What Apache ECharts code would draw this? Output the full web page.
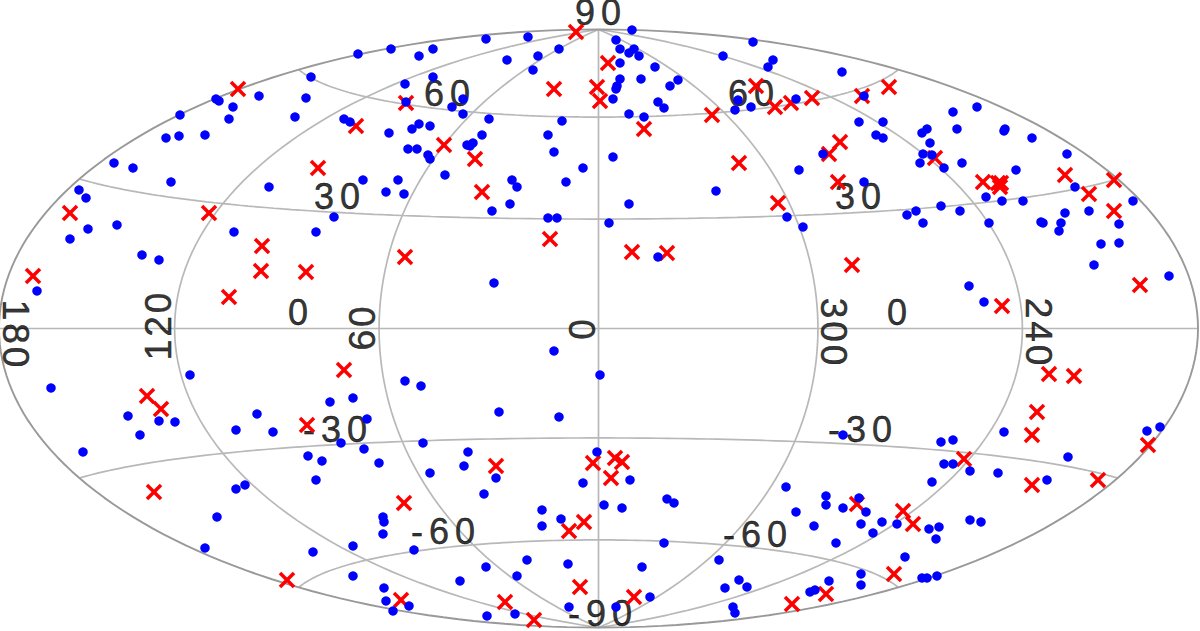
<!DOCTYPE html>
<html><head><meta charset="utf-8">
<style>html,body{margin:0;padding:0;background:#fff}#chart{width:1200px;height:631px}#chart text{letter-spacing:6px}</style>
<script src="https://cdn.jsdelivr.net/npm/echarts@6/dist/echarts.min.js"></script>
</head><body><div id="chart"></div>
<script>
// Sources, in projected map coordinates [x, y]
const blueSources = [
[216,99],[219,101],[180,115],[233,107],[259,96],[229,119],[295,117],[166,138],[179,136],[205,135],[114,163],[133,168],[171,182],[269,187],[79,190],[86,198],
[358,54],[391,49],[419,56],[433,49],[486,39],[528,37],[559,49],[538,56],[507,60],[533,70],[311,77],[433,77],[405,84],[306,98],[406,102],[463,99],[452,107],[463,114],[489,119],[562,121],[344,119],[350,122],[419,124],[412,129],[430,126],[389,133],[548,135],[482,135],[473,143],[467,145],[470,146],[408,149],[417,149],[554,152],[428,155],[430,159],[583,168],[445,175],[363,180],[398,180],[512,180],[517,187],[566,182],[386,192],[404,194],[510,204],[492,211],[334,217],[548,218],[557,218],
[632,30],[616,40],[620,49],[629,53],[634,49],[639,56],[620,63],[655,67],[620,79],[617,86],[616,89],[641,79],[678,80],[670,86],[613,99],[658,102],[664,108],[629,114],[644,117],[613,157],[629,204],[609,223],[753,42],[723,56],[773,60],[768,67],[842,72],[738,100],[735,110],[751,107],[796,99],[864,96],[859,122],[883,122],[876,135],[883,138],[823,154],[799,170],[716,191],[864,182],[787,217],
[977,107],[953,112],[927,129],[922,133],[957,129],[1005,129],[1004,131],[1032,138],[930,143],[923,154],[932,155],[1067,154],[920,163],[962,163],[944,168],[1016,170],[1075,187],[986,197],[1002,201],[1023,201],[1133,201],[941,206],[916,211],[907,215],[960,211],[1065,213],[1089,211],
[923,223],[989,223],[1043,223],[1041,222],[1061,223],[1059,231],[1119,224],[1119,243],[1101,244],[1094,265],[1169,276],[969,286],[984,302],[1147,431],[1160,427],
[658,257],[803,227],[600,375],
[316,232],[494,283],[554,351],[405,381],[421,386],[353,398],[330,402],[499,412],[559,417],[367,419],
[70,239],[88,229],[117,225],[142,255],[159,260],[234,232],[37,291],[190,375],[51,388],[128,416],[159,421],[175,422],[257,414],[236,430],[273,432],
[83,452],[140,435],[236,489],[245,485],[217,517],[205,548],
[341,443],[364,449],[308,456],[322,461],[379,463],[316,480],[423,443],[468,452],[464,466],[430,473],[496,478],[484,494],[597,452],[583,483],[383,517],[384,522],[383,534],[542,510],[542,526],[561,519],[414,550],[353,546],[313,552],[527,560],[486,567],[568,564],[517,576],[353,576],[460,581],[384,588],[386,601],[409,606],[393,611],[487,616],[515,614],[569,607],
[630,480],[604,505],[622,508],[667,499],[674,503],[664,543],[786,487],[826,496],[826,505],[796,512],[843,508],[859,498],[866,512],[814,526],[861,524],[882,522],[873,533],[836,543],[897,524],[719,560],[642,567],[739,580],[725,588],[747,587],[650,597],[616,607],[733,607],[735,613],[861,574],[861,585],[829,581],[815,590],[810,592],[843,435],
[941,442],[953,440],[944,464],[953,464],[970,471],[998,473],[932,482],[1047,480],[1068,457],[1004,432],[970,520],[981,522],[929,529],[939,527],[936,539],[905,557],[922,578],[927,578],[937,576]
];
const redSources = [
[238,89],[70,213],[209,213],
[576,32],[554,89],[597,87],[600,101],[406,103],[356,126],[444,145],[475,159],[318,168],[482,192],
[608,63],[644,129],[712,115],[756,86],[775,107],[791,103],[812,98],[862,96],[889,87],[840,142],[829,154],[739,163],[838,182],[778,203],
[935,158],[983,182],[998,183],[1001,183],[1000,187],[1065,175],[1114,180],[1089,194],[1114,211],
[1140,285],[1002,306],[1049,374],[1074,376],[1037,412],
[632,252],[667,253],[852,265],
[550,239],[405,257],[306,272],[344,370],[307,425],
[262,246],[261,271],[229,297],[33,276],[147,396],[161,409],
[154,492],[287,580],
[404,503],[496,466],[593,463],[584,522],[569,531],[580,587],[505,602],[534,620],[401,600],
[615,458],[622,462],[611,478],[634,597],[792,604],[826,594],[857,504],[894,574],
[964,459],[1032,435],[1032,485],[1098,480],[1148,445],[903,511],[913,524]
];
// Graticule and tick labels
const meridians = [-120,-60,0,60,120];
const parallels = [-60,-30,0,30,60];
const flatLabels = ['90','-90','30','30','60','60','-30','-30','-60','-60','0','0'];
const flatAnchors = [[601,12],[603,613],[340,196],[861,196],[450,93],[754,93],[338,429],[863,429],[446,531],[758,534],[301,312],[900,312]];
const cwLabels = ['180','300','240'];
const cwAnchors = [[15,335],[833,333],[1038,333]];
const ccwLabels = ['120','60','0'];
const ccwAnchors = [[158,325],[362,327],[582,328]];

const CX=598.5, CY=328.5, RX=599.5, RY=299;
function hammer(lon,lat){
  const l=lon*Math.PI/180/2, p=lat*Math.PI/180;
  const d=Math.sqrt(1+Math.cos(p)*Math.cos(l));
  return [CX+RX*Math.cos(p)*Math.sin(l)/d, CY-RY*Math.sin(p)/d];
}
function range(a,b,n){const r=[];for(let i=0;i<=n;i++)r.push(a+(b-a)*i/n);return r;}
function lineSeries(data,color,w,z){
  return {type:'line',data,showSymbol:false,symbol:'none',clip:false,silent:true,z,smooth:false,
    lineStyle:{color,width:w},itemStyle:{color}};
}
function labelSeries(names,anchors,rotate,size){
  return {type:'scatter',symbolSize:0,silent:true,z:2,clip:false,
    data:names.map((n,i)=>({name:n,value:anchors[i]})),
    label:{show:true,position:'inside',rotate,formatter:p=>p.name,color:'#000',
      fontFamily:'"Liberation Sans",Arial,sans-serif',fontSize:size,align:'center',verticalAlign:'middle'}};
}
const series=[];
meridians.forEach(m=>series.push(lineSeries(range(-90,90,90).map(a=>hammer(m,a)),'#b8b8b8',1.7,1)));
parallels.forEach(p=>series.push(lineSeries(range(-180,180,120).map(l=>hammer(l,p)),'#b8b8b8',1.7,1)));
series.push(lineSeries(range(-90,90,120).map(a=>hammer(-180,a)),'#999999',1.9,1));
series.push(lineSeries(range(-90,90,120).map(a=>hammer(180,a)),'#999999',1.9,1));
series.push(labelSeries(flatLabels,flatAnchors,0,36));
series.push(labelSeries(cwLabels,cwAnchors,-90,37));
series.push(labelSeries(ccwLabels,ccwAnchors,90,37));
series.push({type:'scatter',data:redSources,z:4,clip:false,silent:true,symbolSize:16.5,
  symbol:'path://M2.4 0 L8 5.6 L13.6 0 L16 2.4 L10.4 8 L16 13.6 L13.6 16 L8 10.4 L2.4 16 L0 13.6 L5.6 8 L0 2.4 Z',
  itemStyle:{color:'#ff0000',opacity:1}});
series.push({type:'scatter',data:blueSources,z:5,clip:false,silent:true,symbol:'circle',symbolSize:9.5,
  itemStyle:{color:'#0000ff',opacity:1}});
const chart=echarts.init(document.getElementById('chart'),null,{renderer:'svg'});
chart.setOption({animation:false,backgroundColor:'#fff',
  grid:{left:0,right:0,top:0,bottom:0},
  xAxis:{type:'value',min:0,max:1200,show:false},
  yAxis:{type:'value',min:0,max:631,inverse:true,show:false},
  tooltip:{show:false},legend:{show:false},series});
// Rotated longitude labels are set tighter than the flat ones
document.querySelectorAll('#chart text').forEach(t=>{
  const m=/matrix\(([^,\s]+)/.exec(t.getAttribute('transform')||'');
  if(m&&Math.abs(parseFloat(m[1]))<0.5){t.style.letterSpacing='3px';}
  t.style.fill='#000';
  t.style.stroke='#000';
  t.style.strokeWidth='0.4px';
});
</script></body></html>
